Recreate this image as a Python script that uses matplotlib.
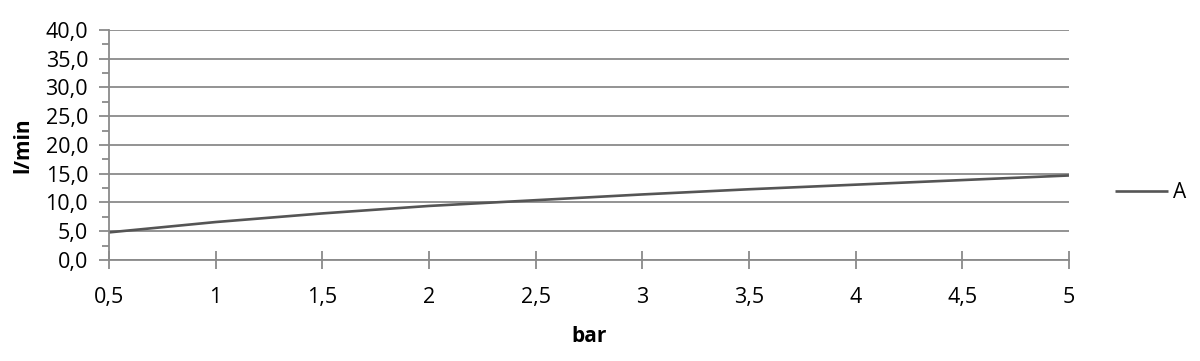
import numpy as np
import matplotlib as mpl
mpl.use("Agg")
import matplotlib.pyplot as plt
from matplotlib.ticker import FuncFormatter, MultipleLocator

mpl.rcParams['font.family'] = ['Open Sans', 'DejaVu Sans']

# data
pressure = [0.5, 1, 1.5, 2, 2.5, 3, 3.5, 4, 4.5, 5]
flow_a = [4.8, 6.6, 8.1, 9.4, 10.4, 11.4, 12.3, 13.1, 13.9, 14.7]
x_labels = ['0,5', '1', '1,5', '2', '2,5', '3', '3,5', '4', '4,5', '5']

grid_col = '#8a8a8a'
line_col = '#555555'
fs = 15.5

fig = plt.figure(figsize=(12, 3.61), dpi=100)
ax = fig.add_axes([0.0908, 0.2798, 0.8, 0.6371])

pos = np.arange(len(pressure))
p0, = ax.plot(pos, flow_a, color=line_col, linewidth=1.9, solid_capstyle='butt')

ax.set_xlim(0, len(pressure) - 1)
ax.set_ylim(0, 40)
ax.set_xticks(pos)
ax.set_xticklabels(x_labels)
ax.yaxis.set_major_locator(MultipleLocator(5))
ax.yaxis.set_minor_locator(MultipleLocator(2.5))
ax.yaxis.set_major_formatter(FuncFormatter(lambda v, p: ('%.1f' % v).replace('.', ',')))

ax.grid(axis='y', which='major', color=grid_col, linewidth=1.3)
ax.set_axisbelow(True)

#set axis properties
for s in ['top', 'right']:
    ax.spines[s].set_visible(False)
for s in ['left', 'bottom']:
    ax.spines[s].set_color(grid_col)
    ax.spines[s].set_linewidth(1.3)

ax.tick_params(axis='y', which='major', direction='out', length=7, width=1.3,
               color=grid_col, labelsize=fs, pad=8)
ax.tick_params(axis='y', which='minor', direction='out', length=5, width=1.3,
               color=grid_col)
ax.tick_params(axis='x', direction='inout', length=13, width=1.3,
               color=grid_col, labelsize=fs, pad=13)

ax.set_xlabel('bar', fontsize=15, fontweight='bold', labelpad=13)
ax.set_ylabel('l/min', fontsize=15, fontweight='bold', labelpad=9)

ax.legend([p0], ['A'], frameon=False, loc='center left',
          bbox_to_anchor=(1115 / 1200, 1 - 193 / 361), bbox_transform=fig.transFigure,
          borderpad=0, borderaxespad=0, fontsize=15, handlelength=2.55,
          handletextpad=0.25)

fig.savefig('out.png', dpi=100)
